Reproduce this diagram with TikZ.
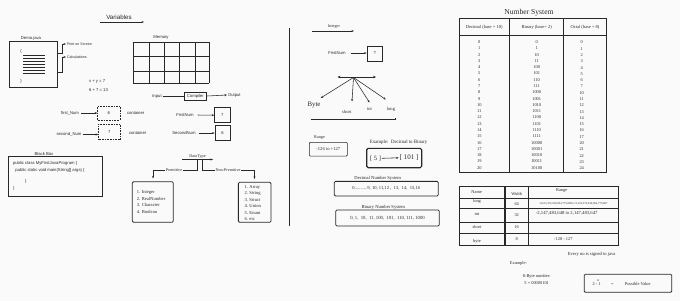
\documentclass[tikz,border=0pt]{standalone}
\usepackage{fontspec}
\setmainfont{Liberation Serif}
\setsansfont{Liberation Sans}
\usetikzlibrary{arrows.meta}
\definecolor{bgc}{RGB}{250,250,250}
\definecolor{inkc}{RGB}{40,40,40}
\begin{document}
\begin{tikzpicture}[x=1pt,y=-1pt,
  lbl/.style={font=\sffamily\fontsize{4.2}{5}\selectfont, inner sep=0.8pt, text=inkc},
  slbl/.style={font=\rmfamily\fontsize{4.6}{5.5}\selectfont, inner sep=0.8pt, text=inkc},
  tnum/.style={font=\rmfamily\fontsize{4.4}{5}\selectfont, inner sep=0pt, text=inkc},
  ln/.style={draw=inkc, line width=0.55pt},
  arr/.style={ln, -{Stealth[length=2.6pt,width=2pt]}},
  dblarr/.style={draw=inkc, line width=1pt, {Stealth[length=3pt,width=2.6pt]}-{Stealth[length=3pt,width=2.6pt]}},
  dotbox/.style={draw=inkc, densely dotted, line width=0.6pt, font=\sffamily\fontsize{4.2}{5}\selectfont, text=inkc},
  sqbox/.style={draw=inkc, line width=0.6pt, font=\sffamily\fontsize{4.2}{5}\selectfont, text=inkc},
  rbox/.style={draw=inkc, line width=0.8pt, rounded corners=1.2pt},
]
\useasboundingbox[fill=bgc] (0,0) rectangle (680,301);

% ---------------- Left part ----------------
\node[lbl, font=\sffamily\fontsize{6.2}{7}\selectfont] (var) at (119,17) {Variables};
\coordinate (varA) at (100,22);
\coordinate (varB) at (144,22);
\draw[arr] (varA) -- (varB);

% Demo.java
\node[lbl] (demolbl) at (31,38.5) {Demo.java};
\node[draw=inkc, line width=0.6pt, minimum width=47.5pt, minimum height=46pt, inner sep=0pt] (demo) at (33.3,64) {};
\node[lbl] (ob) at (21,51) {\{};
\node[lbl] (cb) at (21,81) {\}};
\foreach \yy in {55,58,61,64,67,70,73} \draw[draw=inkc, line width=0.65pt] (23,\yy) -- (45,\yy);
\node[lbl, anchor=west, font=\sffamily\fontsize{3.6}{4}\selectfont] (ps) at (66,44) {Print on Screen};
\node[lbl, anchor=west, font=\sffamily\fontsize{3.6}{4}\selectfont] (calc) at (66,57) {Calculations};
\draw[arr] (demo.east |- 0,53) -- ++(5,0) |- (ps.west);
\draw[arr] (demo.east |- 0,72) -- ++(5,0) |- (calc.west);

\node[lbl, anchor=west] (eq1) at (88,81) {x + y = 7};
\node[lbl, anchor=west] (eq2) at (88,90) {6 + 7 = 13};

% Memory
\node[lbl] (mem) at (161,37.5) {Memory};
\foreach \xx in {133,149,164,179,195,209} \draw[ln] (\xx,42) -- (\xx,83);
\foreach \yy in {42,56,71,83} \draw[ln] (133,\yy) -- (209,\yy);
\draw[draw=inkc, line width=0.9pt] (164,42) rectangle (179,83);

% Input - Compiler - Output
\node[lbl] (inp) at (157,96) {Input};
\node[sqbox, minimum width=22.7pt, minimum height=8pt, inner sep=0pt] (comp) at (195.3,96) {Compiler};
\node[lbl, anchor=west] (outp) at (227,95) {Output};
\draw[ln] (inp.east) -- (comp.west);
\draw[arr] (comp.east) -- (outp.west);

% containers
\node[lbl] (fn) at (70,113) {first\_Num};
\node[dotbox, minimum width=22.3pt, minimum height=14pt, inner sep=0pt] (c1) at (108.8,113) {6};
\node[lbl, anchor=west] (ct1) at (126,113) {container};
\draw[arr] ([xshift=1.5pt]fn.east) -- (c1.west);
\node[lbl] (sn) at (69,134.5) {second\_Num};
\node[dotbox, minimum width=21.3pt, minimum height=15pt, inner sep=0pt] (c2) at (109.3,131.8) {7};
\node[lbl, anchor=west] (ct2) at (128,133) {container};
\draw[arr] ([xshift=1pt]sn.east) -- (c2.west |- sn.east);

\node[lbl] (fn2) at (185,115) {FirstNum};
\node[sqbox, minimum width=15.3pt, minimum height=15pt, inner sep=0pt] (b1) at (222.3,115.2) {7};
\draw[arr] ([xshift=3pt]fn2.east) -- (b1.west);
\node[lbl] (sn2) at (184,133) {SecondNum};
\node[sqbox, minimum width=15pt, minimum height=15.7pt, inner sep=0pt] (b2) at (222.5,132.8) {6};
\draw[arr] ([xshift=2pt]sn2.east) -- (b2.west |- sn2.east);

% Black box
\node[lbl] (bbl) at (44,153.5) {Black Box};
\node[draw=inkc, line width=0.8pt, minimum width=94pt, minimum height=40.7pt, inner sep=0pt] (bb) at (55,176.3) {};
\node[lbl, anchor=west] (code1) at (12,163.8) {public class MyFirstJavaProgram \{};
\node[lbl, anchor=west] (code2) at (14.5,170.3) {public static void main(String[] args) \{};
\node[lbl, anchor=west] (code3) at (24,181.5) {\}};
\node[lbl, anchor=west] (code4) at (12,188) {\}};

% DataType tree
\node[slbl, font=\rmfamily\fontsize{4.2}{5}\selectfont] (dt) at (197.5,156.5) {DataType};
\coordinate (dtA) at (182,159.5);
\coordinate (dtB) at (213,159.5);
\draw[arr] (dtA) -- (dtB);
\coordinate (pl) at (153,178.5);
\coordinate (pr) at (254.5,179);
\draw[arr] (197.5,159.5) -- (197.5,170) -| (pl);
\draw[arr] (202.5,159.5) -- (202.5,170) -| (pr);
\node[slbl, fill=bgc, inner sep=1pt, font=\rmfamily\fontsize{4.2}{5}\selectfont] (prem) at (174,170) {Premitive};
\node[slbl, fill=bgc, inner sep=1pt, font=\rmfamily\fontsize{4.2}{5}\selectfont] (nprem) at (228,170) {Non-Premitive};

\node[rbox, minimum width=41pt, minimum height=40.5pt, inner sep=0pt] (lbox) at (152.8,202) {};
\node[slbl, anchor=west] (l1) at (135.8,192.7) {1. Integer};
\node[slbl, anchor=west] (l2) at (135.8,199) {2. RealNumber};
\node[slbl, anchor=west] (l3) at (135.8,205.3) {3. Character};
\node[slbl, anchor=west] (l4) at (135.8,211.6) {4. Boolean};

\node[rbox, minimum width=32.7pt, minimum height=40pt, inner sep=0pt] (rbx) at (254.7,202.3) {};
\node[slbl, anchor=west] (r1) at (243.5,187.3) {1. Array};
\node[slbl, anchor=west] (r2) at (243.5,193.7) {2. String};
\node[slbl, anchor=west] (r3) at (243.5,200) {3. Struct};
\node[slbl, anchor=west] (r4) at (243.5,206.5) {4. Union};
\node[slbl, anchor=west] (r5) at (243.5,212.8) {5. Enum};
\node[slbl, anchor=west] (r6) at (243.5,219) {6. etc};

% divider
\coordinate (dvA) at (289.5,28);
\coordinate (dvB) at (289.5,226);
\draw[draw=inkc, line width=0.9pt] (dvA) -- (dvB);

% ---------------- Middle part ----------------
\node[slbl, font=\rmfamily\fontsize{4.2}{5}\selectfont] (intg) at (334,27) {Integer};
\coordinate (inA) at (312,31);
\coordinate (inB) at (354,31);
\draw[arr] (inA) -- (inB);

\node[lbl] (fn3) at (337,53) {FirstNum};
\node[sqbox, minimum width=15.3pt, minimum height=15pt, inner sep=0pt] (b3) at (374.7,53.5) {?};
\draw[arr] ([xshift=4pt]fn3.east) -- (b3.west |- fn3.east);

\coordinate (dA) at (337.5,77);
\coordinate (dB) at (376,77);
\draw[dblarr] (dA) -- (dB);
\coordinate (hub) at (353.5,77.5);
\node[slbl, font=\rmfamily\fontsize{6.8}{7.5}\selectfont] (byte) at (314,105) {Byte};
\node[slbl] (short) at (346.8,112) {short};
\node[slbl] (int) at (369.5,108.7) {int};
\node[slbl] (long) at (391,109) {long};
\coordinate (eB) at (320.7,98);
\coordinate (eS) at (352,101.5);
\coordinate (eI) at (369.5,102.5);
\coordinate (eL) at (385.8,99.5);
\draw[arr] (hub) -- (eB);
\draw[arr] (hub) -- (eS);
\draw[arr] (hub) -- (eI);
\draw[arr] (hub) -- (eL);
\coordinate (blA) at (310.7,119);
\coordinate (blB) at (395,119);
\draw[draw=inkc, line width=0.8pt] (blA) -- (blB) -- ++(0,-1.5);

\node[slbl, font=\rmfamily\fontsize{4.2}{5}\selectfont] (range) at (319.5,137.8) {Range};
\node[draw=inkc, line width=0.6pt, rounded corners=1pt, minimum width=38pt, minimum height=13.7pt, inner sep=0pt, font=\rmfamily\fontsize{4.6}{5.5}\selectfont, text=inkc] (rng) at (328.3,149.2) {-126 to +127};

\node[slbl, font=\rmfamily\fontsize{4.9}{5.5}\selectfont] (ex1) at (398.5,142.7) {Example:\ \ Decimal to Binary};
\node[draw=inkc, line width=1.1pt, rounded corners=1.5pt, minimum width=55pt, minimum height=19.4pt, inner sep=0pt] (exb) at (394.2,158) {};
\node[slbl, font=\rmfamily\fontsize{6.5}{7.5}\selectfont] (five) at (375.5,158.3) {[ 5 ]};
\node[slbl, font=\rmfamily\fontsize{7}{8}\selectfont] (bin) at (409,157.8) {[ 101 ]};
\draw[arr] (five.east) -- (bin.west);

\node[slbl, font=\rmfamily\fontsize{4.6}{5.5}\selectfont] (dnsl) at (377.7,178.7) {Decimal Number System};
\node[rbox, minimum width=104pt, minimum height=14.7pt, inner sep=0pt, font=\rmfamily\fontsize{4.6}{5.5}\selectfont, text=inkc] (dns) at (386.3,188.7) {0...........9,\ 10,\ 11,12 ,\ \ 13,\ \ 14,\ \ 15,16};
\node[slbl, font=\rmfamily\fontsize{4.6}{5.5}\selectfont] (bnsl) at (383.3,207.3) {Binary Number System};
\node[rbox, minimum width=103.6pt, minimum height=16pt, inner sep=0pt, font=\rmfamily\fontsize{4.7}{5.5}\selectfont, text=inkc] (bns) at (387.5,218) {0,\ 1,\ \ 10,\ \ 11, 100,\ \ 101,\ \ 110,\ 111,\ 1000};

% ---------------- Right part ----------------
\node[slbl, font=\rmfamily\fontsize{7.6}{8.5}\selectfont] (nst) at (529,13) {Number System};
\draw[draw=inkc, line width=0.8pt] (459,18.7) rectangle (606.7,172.7);
\draw[draw=inkc, line width=0.8pt] (459,35) -- (606.7,35);
\draw[draw=inkc, line width=0.8pt] (509.3,18.7) -- (509.3,172.7);
\draw[draw=inkc, line width=0.8pt] (563.3,18.7) -- (563.3,172.7);
\node[tnum, font=\rmfamily\fontsize{4.5}{5}\selectfont] (h1) at (484.2,27) {Decimal (base = 10)};
\node[tnum, font=\rmfamily\fontsize{4.5}{5}\selectfont] (h2) at (536.7,27) {Binary (base= 2)};
\node[tnum, font=\rmfamily\fontsize{4.5}{5}\selectfont] (h3) at (585,27) {Octal (base = 8)};
\foreach \d/\b/\o [count=\i from 0] in {0/0/0,1/1/1,2/10/2,3/11/3,4/100/4,5/101/5,6/110/6,7/111/7,8/1000/10,9/1001/11,10/1010/12,11/1011/13,12/1100/14,13/1101/15,14/1110/16,15/1111/17,16/10000/20,17/10001/21,18/10010/22,19/10011/23,20/10100/24} {
  \node[tnum] (d\i) at (479.3,42+\i*6.285) {\d};
  \node[tnum] (bb\i) at (536.7,42+\i*6.285) {\b};
  \node[tnum] (o\i) at (581.7,42.5+\i*6.285) {\o};
}

% widths table
\draw[draw=inkc, line width=0.7pt] (459.3,186.7) rectangle (618.3,245.7);
\foreach \yy in {198.3,208.3,222.3,233.3} \draw[draw=inkc, line width=0.7pt] (459.3,\yy) -- (618.3,\yy);
\draw[draw=inkc, line width=1.1pt] (505,186.7) rectangle (528.3,245.7);
\node[tnum] (tn) at (476.7,192.3) {Name};
\node[tnum] (tw) at (516.7,193.5) {Width};
\node[tnum] (tr) at (561.7,191) {Range};
\node[tnum] (n1) at (477,201.7) {long};
\node[tnum] (w1) at (516.7,204) {64};
\node[tnum, font=\rmfamily\fontsize{2.9}{3.5}\selectfont] (g1) at (573.3,203.7) {-9,223,372,036,854,775,808 to 9,223,372,036,854,775,807};
\node[tnum] (n2) at (477,213.7) {int};
\node[tnum] (w2) at (516.7,214.7) {32};
\node[tnum, font=\rmfamily\fontsize{4.7}{5.5}\selectfont] (g2) at (566.7,213.7) {-2,147,483,648 to 2,147,483,647};
\node[tnum] (n3) at (477,227) {short};
\node[tnum] (w3) at (516.7,227) {16};
\node[tnum] (n4) at (477,241) {byte};
\node[tnum] (w4) at (516.7,239) {8};
\node[tnum] (g4) at (563.3,239.3) {-128 - 127};

\node[tnum, font=\rmfamily\fontsize{4.6}{5.5}\selectfont] (every) at (591.7,254) {Every no is signed in java};
\node[tnum] (ex2) at (518.3,263.3) {Example:};
\node[tnum] (eb1) at (536.7,276.7) {8-Byte number:};
\node[tnum] (eb2) at (536.7,283) {5 = 00000101};
\node[draw=inkc, line width=0.8pt, rounded corners=1pt, minimum width=87.4pt, minimum height=18pt, inner sep=0pt] (pv) at (628,283.3) {};
\node[tnum, font=\rmfamily\fontsize{3.5}{4}\selectfont] (nn) at (598.3,280.3) {n};
\node[tnum] (two) at (596.7,284.5) {2 - 1};
\node[tnum] (eqs) at (612.3,284.5) {=};
\node[tnum] (pvt) at (637.7,284) {Possible Value};
\end{tikzpicture}
\end{document}
